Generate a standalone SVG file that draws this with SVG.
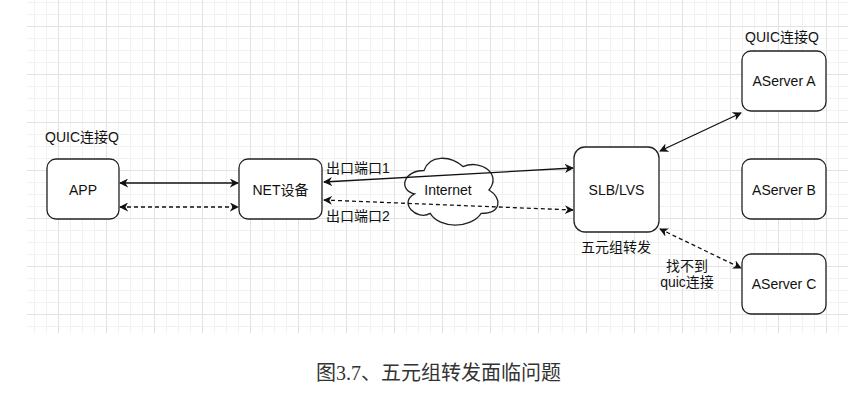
<svg xmlns="http://www.w3.org/2000/svg" width="860" height="416" viewBox="0 0 860 416">
<defs>
<pattern id="grid" patternUnits="userSpaceOnUse" x="10" y="26" width="48" height="48">
<path d="M12.5 0V48M24.5 0V48M36.5 0V48M0 12.5H48M0 24.5H48M0 36.5H48" stroke="#f1f1f1" stroke-width="1" fill="none"/>
<path d="M0.5 0V48M0 0.5H48" stroke="#e2e2e2" stroke-width="1" fill="none"/>
</pattern>
<marker id="ah" viewBox="0 0 10 10" refX="9" refY="5" markerWidth="9" markerHeight="9" markerUnits="userSpaceOnUse" orient="auto-start-reverse">
<path d="M0,0 L10,5 L0,10 L3,5 Z" fill="#111"/>
</marker>
<style>
.box{fill:#fff;stroke:#222;stroke-width:1.3}
.t{font-family:"Liberation Sans","Noto Sans CJK SC",sans-serif;font-size:14px;fill:#111}
.c{stroke:#111;stroke-width:1.3;fill:none;marker-start:url(#ah);marker-end:url(#ah)}
.d{stroke-dasharray:4 3}
</style>
</defs>
<rect width="860" height="416" fill="#fff"/>
<rect x="27" y="0" width="821" height="333" fill="url(#grid)"/>

<g id="cloud">
<path class="box" d="M424 170.5C403.2 170.5 398 190 414.6 193.9C398 202.5 416.7 221.2 430.2 213.4C439.6 229 470.8 229 481.2 213.4C502 213.4 502 197.8 489 190C502 174.4 481.2 158.8 463 166.6C450 154.9 429.2 154.9 424 170.5Z"/>
<text class="t" x="448" y="195" text-anchor="middle">Internet</text>
</g>

<g id="connectors">
<line class="c" x1="120" y1="183" x2="238" y2="183"/>
<line class="c d" x1="120" y1="207" x2="238" y2="207"/>
<line class="c" x1="324" y1="182" x2="573" y2="168"/>
<line class="c d" x1="324" y1="200" x2="573" y2="210"/>
<line class="c" x1="660" y1="151" x2="741" y2="113"/>
<line class="c d" x1="660" y1="229" x2="741" y2="268"/>
</g>

<g id="app">
<rect class="box" x="47" y="159" width="72" height="60" rx="9"/>
<text class="t" x="83" y="195" text-anchor="middle">APP</text>
</g>
<text class="t" x="45" y="142">QUIC连接Q</text>

<g id="net">
<rect class="box" x="239" y="159" width="83" height="60" rx="9"/>
<text class="t" x="280.5" y="195" text-anchor="middle">NET设备</text>
</g>
<text class="t" x="326" y="173">出口端口1</text>
<text class="t" x="326" y="221">出口端口2</text>

<g id="slb">
<rect class="box" x="574" y="147" width="85" height="85" rx="11"/>
<text class="t" x="616.5" y="195" text-anchor="middle">SLB/LVS</text>
</g>
<text class="t" x="616" y="252" text-anchor="middle">五元组转发</text>

<g id="serverA">
<rect class="box" x="742" y="51" width="84" height="60" rx="9"/>
<text class="t" x="784" y="86" text-anchor="middle">AServer A</text>
</g>
<text class="t" x="745" y="42">QUIC连接Q</text>

<g id="serverB">
<rect class="box" x="742" y="159" width="84" height="60" rx="9"/>
<text class="t" x="784" y="195" text-anchor="middle">AServer B</text>
</g>

<g id="serverC">
<rect class="box" x="742" y="254" width="84" height="60" rx="9"/>
<text class="t" x="784" y="289" text-anchor="middle">AServer C</text>
</g>
<text class="t" x="687" y="271" text-anchor="middle">找不到</text>
<text class="t" x="687" y="287" text-anchor="middle">quic连接</text>

<text x="316" y="380" font-family="'Liberation Serif','Noto Sans CJK SC',serif" font-size="20" fill="#333">图3.7、五元组转发面临问题</text>
</svg>
